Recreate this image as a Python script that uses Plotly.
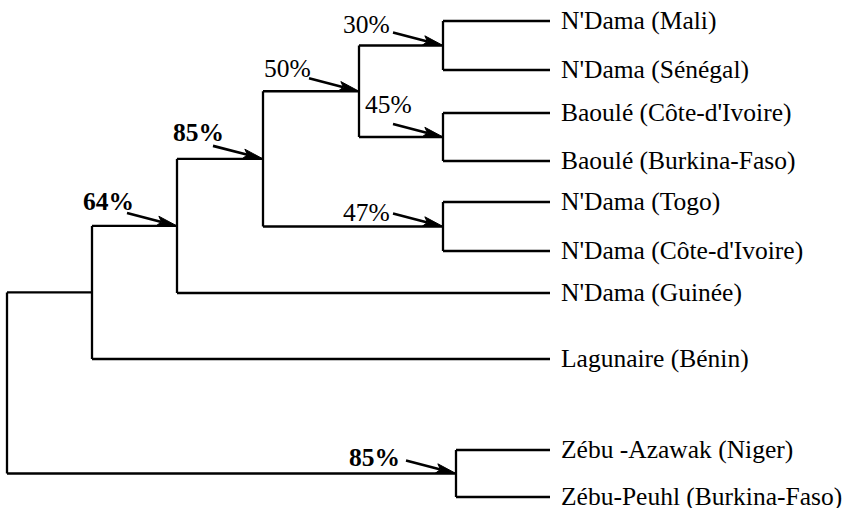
import math
import plotly.graph_objects as go

# ---------------- data ----------------
leaf_names = [
    "N'Dama (Mali)",
    "N'Dama (Sénégal)",
    "Baoulé (Côte-d'Ivoire)",
    "Baoulé (Burkina-Faso)",
    "N'Dama (Togo)",
    "N'Dama (Côte-d'Ivoire)",
    "N'Dama (Guinée)",
    "Lagunaire (Bénin)",
    "Zébu -Azawak (Niger)",
    "Zébu-Peuhl (Burkina-Faso)",
]
leaf_pos = [21, 70, 113, 161, 202, 251, 293, 359, 450, 497]
leaf_depth = 550

# internal nodes (ids 10..18): children a, b and depth of the join
merge_a = [0, 2, 4, 10, 13, 14, 15, 8, 16]
merge_b = [1, 3, 5, 11, 12, 6, 7, 9, 17]
merge_depth = [443, 443, 443, 359, 263, 177, 92, 456, 7]
support = ["30%", "45%", "47%", "50%", "85%", "64%", "", "85%", ""]
support_bold = [False, False, False, False, True, True, False, True, False]

# ---------------- layout constants ----------------
W, H = 846, 508
FONT = "Liberation Serif, Times New Roman, serif"
FS = 25.5
LW = 2.3
arrow_vec = (-50, -13)
# label offset (text left, text centre) relative to node point
label_off = {0: (-102, -21), 1: (-80, -33), 2: (-102, -14), 3: (-97, -23),
             4: (-92, -26), 5: (-96, -24), 7: (-109, -16)}

n_leaf = len(leaf_names)
node_x = [leaf_depth] * n_leaf
node_y = list(leaf_pos)
for a, b, d in zip(merge_a, merge_b, merge_depth):
    node_x.append(d)
    node_y.append((node_y[a] + node_y[b]) / 2)

xs, ys = [], []
for i, (a, b, d) in enumerate(zip(merge_a, merge_b, merge_depth)):
    xs += [d, d, None]
    ys += [node_y[a], node_y[b], None]
    for c in (a, b):
        xs += [d, node_x[c], None]
        ys += [node_y[c], node_y[c], None]

fig = go.Figure()
fig.add_trace(go.Scatter(x=xs, y=ys, mode="lines",
                         line=dict(color="black", width=LW),
                         hoverinfo="skip", showlegend=False))

annotations = []
for k in range(n_leaf):
    annotations.append(dict(
        x=leaf_depth + 9, y=node_y[k] - 1, xref="x", yref="y",
        text=leaf_names[k], showarrow=False, xanchor="left", yanchor="middle",
        font=dict(family=FONT, size=FS, color="black")))

L_HEAD, HW, NOTCH = 20, 4.8, 4
for i, s in enumerate(support):
    if not s:
        continue
    nid = n_leaf + i
    px, py = node_x[nid], node_y[nid]
    tx, ty = px + arrow_vec[0], py + arrow_vec[1]
    dx, dy = px - tx, py - ty
    ln = math.hypot(dx, dy)
    ux, uy = dx / ln, dy / ln
    nx, ny = -uy, ux
    bx, by = px - L_HEAD * ux, py - L_HEAD * uy
    fig.add_trace(go.Scatter(
        x=[tx, bx + NOTCH * ux], y=[ty, by + NOTCH * uy], mode="lines",
        line=dict(color="black", width=2.6), hoverinfo="skip", showlegend=False))
    fig.add_trace(go.Scatter(
        x=[px, bx + HW * nx, bx + NOTCH * ux, bx - HW * nx, px],
        y=[py, by + HW * ny, by + NOTCH * uy, by - HW * ny, py],
        mode="lines", fill="toself", fillcolor="black",
        line=dict(color="black", width=1), hoverinfo="skip", showlegend=False))
    ox, oy = label_off[i]
    txt = f"<b>{s}</b>" if support_bold[i] else s
    annotations.append(dict(
        x=px + ox, y=py + oy, xref="x", yref="y", text=txt, showarrow=False,
        xanchor="left", yanchor="middle",
        font=dict(family=FONT, size=FS, color="black")))

fig.update_layout(
    width=W, height=H,
    margin=dict(l=0, r=0, t=0, b=0),
    paper_bgcolor="white", plot_bgcolor="white",
    xaxis=dict(range=[0, W], visible=False, fixedrange=True),
    yaxis=dict(range=[H, 0], visible=False, fixedrange=True),
    annotations=annotations, showlegend=False,
)
fig.write_html("out.html",
               config={"displayModeBar": False, "staticPlot": True},
               post_script="document.body.style.margin='0px';"
                           "document.body.style.overflow='hidden';")
